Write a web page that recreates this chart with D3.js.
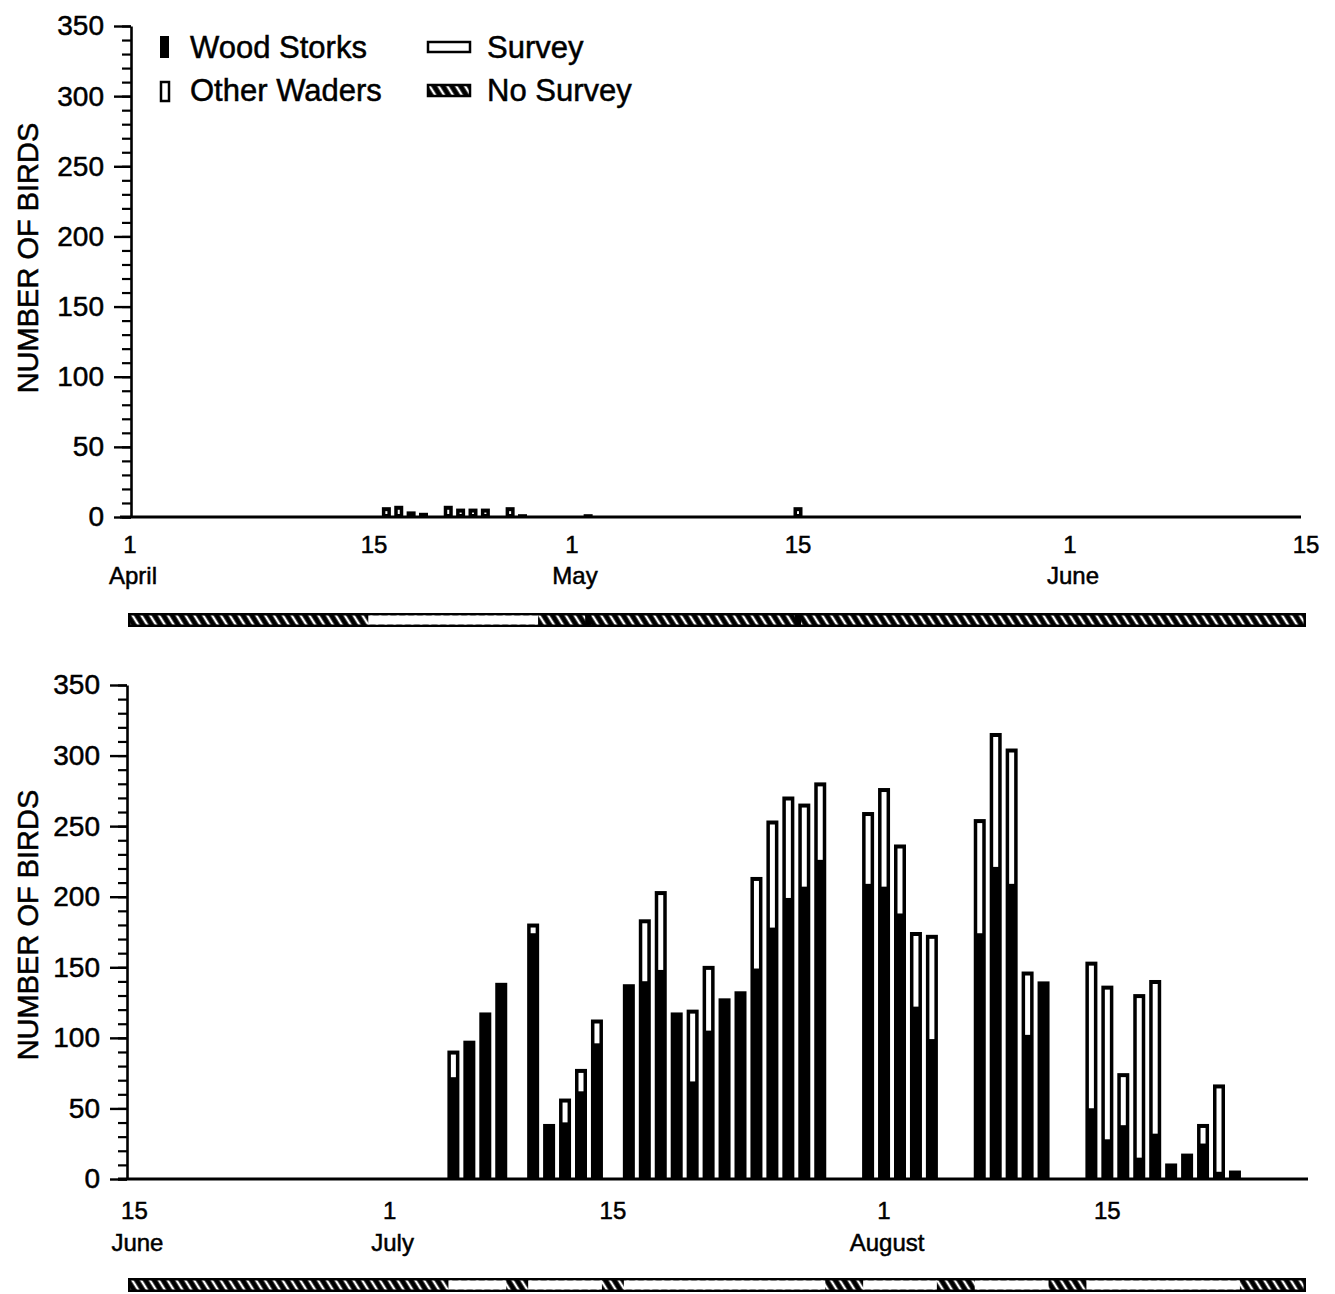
<!DOCTYPE html>
<html lang="en">
<head>
<meta charset="UTF-8">
<title>Wood Storks and Other Waders</title>
<script src="https://d3js.org/d3.v7.min.js"></script>
<style>
  body { margin: 0; background: #fff; }
  svg { display: block; font-family: "Liberation Sans", Arial, sans-serif; }
  svg text { fill: #000; stroke: #000; stroke-width: 0.5px; }
</style>
</head>
<body>
<svg id="chart" width="1335" height="1294"></svg>
<script>
const yMajor = [0, 50, 100, 150, 200, 250, 300, 350];
const yMinor = d3.range(0, 351, 10);

// upper panel: April 1 - June 15
const springDates  = ["04-16", "04-17", "04-18", "04-19", "04-21", "04-22", "04-23", "04-24", "04-26", "04-27", "05-02", "05-15"];
const springStorks = [0, 0, 0, 0, 0, 0, 0, 0, 0, 0, 0, 0];
const springOthers = [7, 8, 4, 3, 8, 6, 6, 6, 7, 2, 2, 7];
const springSurveys = [["04-15", "04-28"]];
const springSurveyMarks = ["05-02", "05-15"];
const springTicks  = ["04-01", "04-15", "05-01", "05-15", "06-01", "06-15"];
const springDays   = ["1", "15", "1", "15", "1", "15"];
const springMonths = ["April", "", "May", "", "June", ""];

// lower panel: June 15 - end of August
const summerDates = ["07-05", "07-06", "07-07", "07-08", "07-10", "07-11", "07-12", "07-13", "07-14",
  "07-16", "07-17", "07-18", "07-19", "07-20", "07-21", "07-22", "07-23", "07-24", "07-25", "07-26", "07-27", "07-28",
  "07-31", "08-01", "08-02", "08-03", "08-04", "08-07", "08-08", "08-09", "08-10", "08-11",
  "08-14", "08-15", "08-16", "08-17", "08-18", "08-19", "08-20", "08-21", "08-22", "08-23"];
const summerStorks = [70, 98, 118, 139, 172, 39, 38, 60, 94,
  138, 138, 146, 118, 67, 103, 128, 133, 147, 176, 197, 205, 224,
  207, 205, 186, 120, 97, 172, 219, 207, 100, 140,
  48, 26, 36, 13, 30, 11, 18, 23, 3, 6];
const summerOthers = [21, 0, 0, 0, 9, 0, 19, 18, 19,
  0, 46, 58, 0, 53, 48, 0, 0, 67, 78, 74, 61, 57,
  53, 72, 51, 55, 76, 83, 97, 98, 47, 0,
  106, 111, 39, 118, 111, 0, 0, 16, 64, 0];
const summerSurveys = [["07-05", "07-08"], ["07-10", "07-14"], ["07-16", "07-28"],
  ["07-31", "08-04"], ["08-07", "08-11"], ["08-14", "08-23"]];
const summerSurveyMarks = [];
const summerTicks  = ["06-15", "07-01", "07-15", "08-01", "08-15"];
const summerDays   = ["15", "1", "15", "1", "15"];
const summerMonths = ["June", "July", "", "August", ""];

const day = s => new Date(Date.UTC(1989, +s.slice(0, 2) - 1, +s.slice(3)));
const DAY = 864e5;
const shift = (dt, k) => new Date(dt.getTime() + k * DAY);

const svg = d3.select("#chart");

// hatch for "no survey"
const defs = svg.append("defs");
const pat = defs.append("pattern")
  .attr("id", "hatch")
  .attr("patternUnits", "userSpaceOnUse")
  .attr("width", 7.5).attr("height", 12)
  .attr("patternTransform", "rotate(-32)");
pat.append("rect").attr("width", 7.5).attr("height", 12).attr("fill", "#000");
pat.append("line").attr("x1", 3.75).attr("y1", 0).attr("x2", 3.75).attr("y2", 12)
  .attr("stroke", "#fff").attr("stroke-width", 2.4);

const panels = [
  {
    dates: springDates, storks: springStorks, others: springOthers,
    surveys: springSurveys, marks: springSurveyMarks,
    ticks: springTicks, tickDays: springDays, tickMonths: springMonths,
    // the printed axis is not quite even, so the scale is pinned at each label
    domain: springTicks.map(day), range: [130, 374, 572, 798, 1070, 1306],
    axisX: 131, top: 26, zero: 517, lineFrom: 120, lineTo: 1301,
    barW: 9, dayY: 553, monthY: 584, stripY: 613, titleY: 258
  },
  {
    dates: summerDates, storks: summerStorks, others: summerOthers,
    surveys: summerSurveys, marks: summerSurveyMarks,
    ticks: summerTicks, tickDays: summerDays, tickMonths: summerMonths,
    domain: [day("06-15"), day("08-28")], range: [134.4, 1314.7],
    axisX: 127, top: 685, zero: 1179, lineFrom: 118, lineTo: 1308,
    barW: 12, dayY: 1219, monthY: 1251, stripY: 1278, titleY: 925
  }
];

panels.forEach(p => {
  const x = d3.scaleUtc().domain(p.domain).range(p.range);
  const y = d3.scaleLinear().domain([0, 350]).range([p.zero, p.top]);
  const g = svg.append("g");

  // bars
  const rows = p.dates.map((d, i) => ({ date: day(d), ws: p.storks[i], ot: p.others[i] }));
  g.selectAll(".bar").data(rows).enter().append("rect")
    .attr("class", "bar")
    .attr("x", d => x(d.date) - p.barW / 2)
    .attr("y", d => y(d.ws + d.ot))
    .attr("width", p.barW)
    .attr("height", d => p.zero - y(d.ws + d.ot))
    .attr("fill", "#000");

  g.selectAll(".other").data(rows.filter(d => d.ot > 0 && (y(d.ws) - 3) - (y(d.ws + d.ot) + 4) > 0))
    .enter().append("rect")
    .attr("class", "other")
    .attr("x", d => x(d.date) - p.barW / 2 + 3.5)
    .attr("y", d => y(d.ws + d.ot) + 4)
    .attr("width", p.barW - 7)
    .attr("height", d => (y(d.ws) - 3) - (y(d.ws + d.ot) + 4))
    .attr("fill", "#fff");

  // x axis line
  g.append("line")
    .attr("x1", p.lineFrom).attr("x2", p.lineTo)
    .attr("y1", p.zero).attr("y2", p.zero)
    .attr("stroke", "#000").attr("stroke-width", 3);

  // y axis: minor then major ticks
  const minor = g.append("g")
    .attr("transform", `translate(${p.axisX},0)`)
    .call(d3.axisLeft(y).tickValues(yMinor).tickSize(9).tickSizeOuter(0).tickFormat(""));
  minor.selectAll("line").attr("stroke-width", 2.2);
  minor.select(".domain").attr("stroke-width", 2.6);

  const major = g.append("g")
    .attr("transform", `translate(${p.axisX},0)`)
    .call(d3.axisLeft(y).tickValues(yMajor).tickSize(17).tickPadding(10).tickSizeOuter(0));
  major.select(".domain").remove();
  major.selectAll("line").attr("stroke-width", 2.4);
  major.selectAll("text")
    .attr("font-size", 28)
    .attr("font-family", "'Liberation Sans', Arial, sans-serif");

  // y title
  g.append("text")
    .attr("transform", `translate(38,${p.titleY}) rotate(-90)`)
    .attr("text-anchor", "middle")
    .attr("font-size", 29)
    .text("NUMBER OF BIRDS");

  // x labels
  p.ticks.forEach((t, i) => {
    g.append("text")
      .attr("x", x(day(t))).attr("y", p.dayY)
      .attr("text-anchor", "middle").attr("font-size", 24)
      .text(p.tickDays[i]);
    if (p.tickMonths[i]) {
      g.append("text")
        .attr("x", x(day(t)) + 3).attr("y", p.monthY)
        .attr("text-anchor", "middle").attr("font-size", 24)
        .text(p.tickMonths[i]);
    }
  });

  // survey strip
  const s0 = 128, s1 = 1306, sh = 14;
  g.append("rect")
    .attr("x", s0).attr("y", p.stripY).attr("width", s1 - s0).attr("height", sh)
    .attr("fill", "#000");
  g.append("rect")
    .attr("x", s0 + 2.5).attr("y", p.stripY + 2.5).attr("width", s1 - s0 - 5).attr("height", sh - 5)
    .attr("fill", "url(#hatch)");
  g.selectAll(".survey").data(p.surveys).enter().append("rect")
    .attr("class", "survey")
    .attr("x", d => x(shift(day(d[0]), -0.5)) + 3)
    .attr("y", p.stripY + 2.5)
    .attr("width", d => x(shift(day(d[1]), 0.5)) - x(shift(day(d[0]), -0.5)) - 6)
    .attr("height", sh - 5)
    .attr("fill", "#fff");
  g.selectAll(".mark").data(p.marks).enter().append("rect")
    .attr("class", "mark")
    .attr("x", d => x(day(d)) - 3)
    .attr("y", p.stripY)
    .attr("width", 6)
    .attr("height", sh)
    .attr("fill", "#000");
});

// legend
const lg = svg.append("g").attr("font-size", 31);
lg.append("rect").attr("x", 160).attr("y", 36).attr("width", 9).attr("height", 22).attr("fill", "#000");
lg.append("text").attr("x", 190).attr("y", 58).text("Wood Storks");
lg.append("rect").attr("x", 161).attr("y", 82).attr("width", 8).attr("height", 19)
  .attr("fill", "#fff").attr("stroke", "#000").attr("stroke-width", 2.5);
lg.append("text").attr("x", 190).attr("y", 101).text("Other Waders");
lg.append("rect").attr("x", 428).attr("y", 42).attr("width", 42).attr("height", 10)
  .attr("fill", "#fff").attr("stroke", "#000").attr("stroke-width", 2.5);
lg.append("text").attr("x", 487).attr("y", 58).text("Survey");
lg.append("rect").attr("x", 428).attr("y", 85).attr("width", 42).attr("height", 11)
  .attr("fill", "url(#hatch)").attr("stroke", "#000").attr("stroke-width", 2.5);
lg.append("text").attr("x", 487).attr("y", 101).text("No Survey");
</script>
</body>
</html>
